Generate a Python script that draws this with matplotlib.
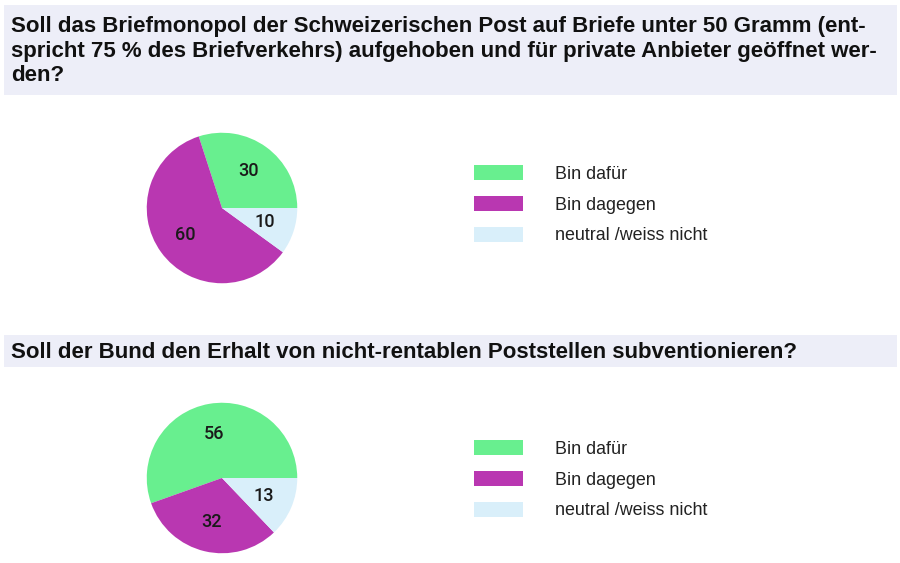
import matplotlib.pyplot as plt
from matplotlib.patches import Rectangle

# data
labels = ["Bin dafür", "Bin dagegen", "neutral /weiss nicht"]
q1_values = [30, 60, 10]
q2_values = [56, 32, 13]
colors = ["#68EF8F", "#B937B1", "#D9EFFA"]

q1_title = ("Soll das Briefmonopol der Schweizerischen Post auf Briefe unter 50 Gramm (ent-\n"
            "spricht 75 % des Briefverkehrs) aufgehoben und für private Anbieter geöffnet wer-\n"
            "den?")
q2_title = "Soll der Bund den Erhalt von nicht-rentablen Poststellen subventionieren?"

W, H = 900, 563
plt.rcParams['font.family'] = ['Liberation Sans', 'DejaVu Sans']
fig = plt.figure(figsize=(W / 100, H / 100), dpi=100)
fig.patch.set_facecolor("white")

def px_box(x0, y0, w, h):
    # pixel box (top-left origin) -> figure fraction
    return [x0 / W, (H - y0 - h) / H, w / W, h / H]

# title bars
for (y0, h) in [(5, 90), (335, 32)]:
    l, b, w, hh = px_box(4, y0, 893, h)
    fig.patches.append(Rectangle((l, b), w, hh, transform=fig.transFigure,
                                 facecolor="#EDEEF8", edgecolor="none", zorder=0))

fig.text(11 / W, 1 - 51 / H, q1_title, fontsize=16.0, fontweight="bold",
         va="center", ha="left", linespacing=1.24, color="#111111")
fig.text(11 / W, 1 - 352 / H, q2_title, fontsize=16.0, fontweight="bold",
         va="center", ha="left", color="#111111")

def draw(values, cy, legend_y):
    ax = fig.add_axes(px_box(222 - 76, cy - 76, 152, 152))
    wedges, _, autotexts = ax.pie(values, colors=colors, startangle=0, counterclock=True,
                                  autopct=lambda p: "", pctdistance=0.6,
                                  wedgeprops=dict(linewidth=0))
    for t, v in zip(autotexts, values):
        t.set_text(str(v))
        t.set_fontsize(13)
        t.set_family(["Roboto", "DejaVu Sans"])
        t.set_fontweight(500)
        t.set_color("#1a1a1a")
    ax.set_xlim(-1.01, 1.01)
    ax.set_ylim(-1.01, 1.01)
    ax.set_aspect("equal")
    leg = fig.legend(wedges, labels, loc="upper left",
                     bbox_to_anchor=(465 / W, 1 - legend_y / H),
                     frameon=False, fontsize=12.9, handlelength=2.75, handleheight=0.95,
                     handletextpad=1.75, labelspacing=0.72, borderpad=0)
    for t in leg.get_texts():
        t.set_color("#222222")

draw(q1_values, 208, 156)
draw(q2_values, 478, 431)

fig.savefig("out.png", dpi=100)
